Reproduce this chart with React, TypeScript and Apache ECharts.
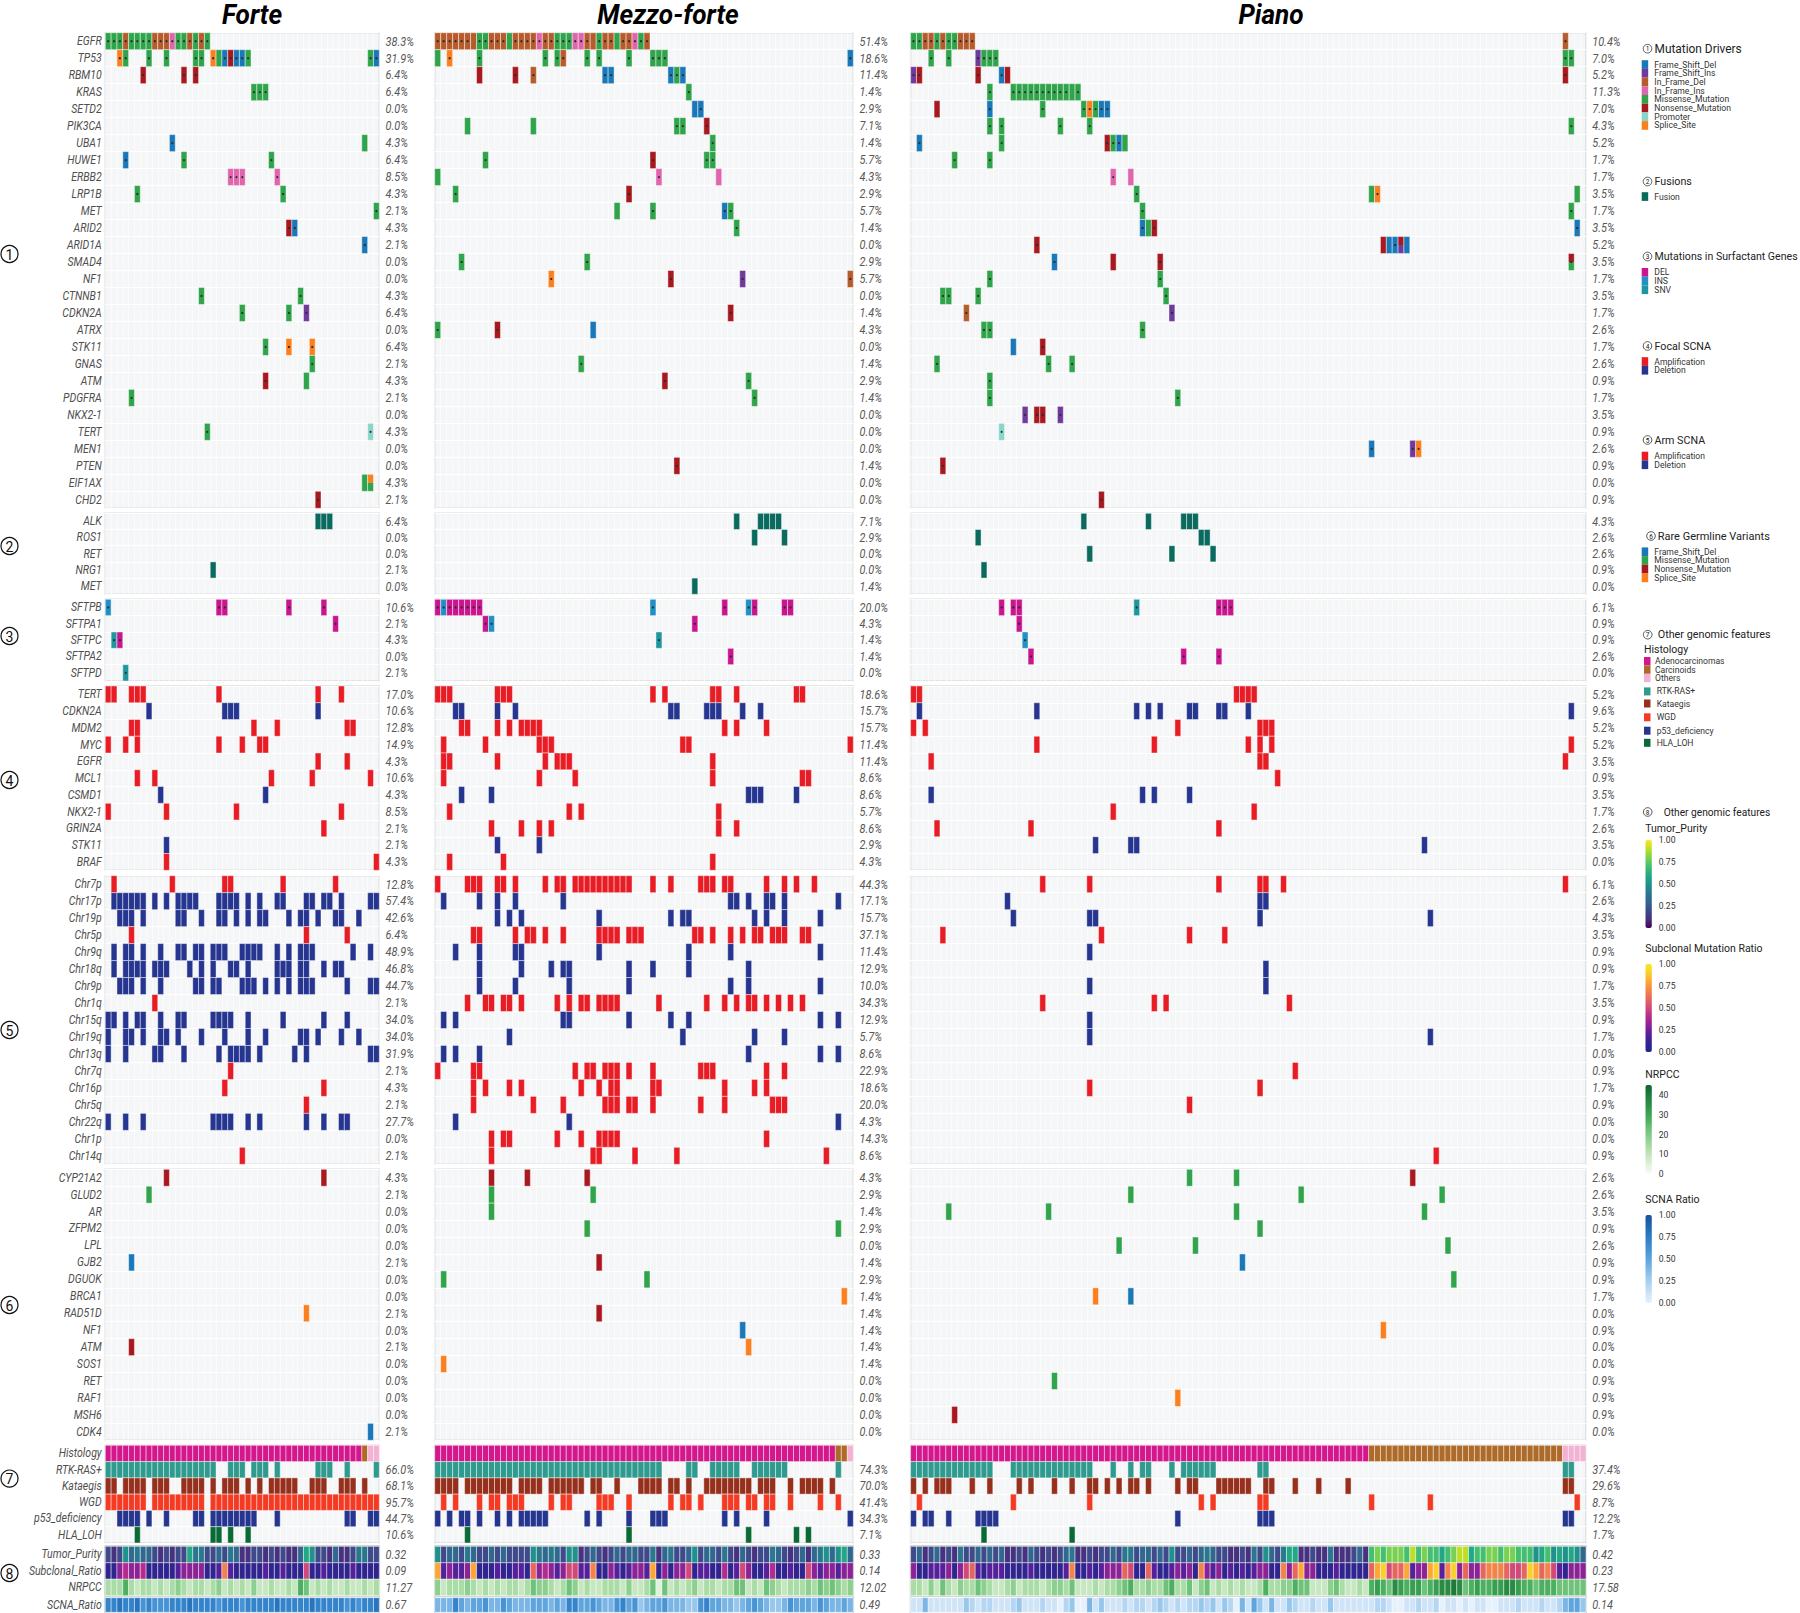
import React, { useEffect, useRef } from "react";
import * as echarts from "echarts";

const cohorts = ["Forte", "Mezzo-forte", "Piano"];
const cohortSizes = [47, 70, 115];

const driverGenes = ["EGFR","TP53","RBM10","KRAS","SETD2","PIK3CA","UBA1","HUWE1","ERBB2","LRP1B","MET","ARID2","ARID1A","SMAD4","NF1","CTNNB1","CDKN2A","ATRX","STK11","GNAS","ATM","PDGFRA","NKX2-1","TERT","MEN1","PTEN","EIF1AX","CHD2"];
const fusionGenes = ["ALK","ROS1","RET","NRG1","MET"];
const surfactantGenes = ["SFTPB","SFTPA1","SFTPC","SFTPA2","SFTPD"];
const focalGenes = ["TERT","CDKN2A","MDM2","MYC","EGFR","MCL1","CSMD1","NKX2-1","GRIN2A","STK11","BRAF"];
const focalTypes = "ALAAAALAALA";
const armNames = ["Chr7p","Chr17p","Chr19p","Chr5p","Chr9q","Chr18q","Chr9p","Chr1q","Chr15q","Chr19q","Chr13q","Chr7q","Chr16p","Chr5q","Chr22q","Chr1p","Chr14q"];
const armTypes = "ALLALLLALLLAAALAA";
const germlineGenes = ["CYP21A2","GLUD2","AR","ZFPM2","LPL","GJB2","DGUOK","BRCA1","RAD51D","NF1","ATM","SOS1","RET","RAF1","MSH6","CDK4"];
const otherFeatures = ["Histology","RTK-RAS+","Kataegis","WGD","p53_deficiency","HLA_LOH"];
const otherTypes = "HRKWPL";
const heatFeatures = ["Tumor_Purity","Subclonal_Ratio","NRPCC"];
const scnaFeature = ["SCNA_Ratio"];

// upper-case letter: mutation with a clonal dot; lower-case: without. A/B = split cell.
const forteDrivers = [
  "0M 1M 2M 3D 4M 5M 6M 7M 8D 9D 10D 11N 12M 13M 14D 15M 16D 17M",
  "2S 3M 7M 10M 15M 16M 18S 19m 20F 21X 22F 23F 24M 45M 46F",
  "6X 13X 15X","25M 26M 27M","","","11F 44m","3F 13M 28M","21N 22N 23N 29N","5M 30M","46M","31X 32F","44F","","",
  "16M 33M","23M 31M 34I","","27M 31S 35S","35M","27X 34m","4M","","17M 45P","","","44m 45s/m","36X",
];
const mezzoDrivers = [
  "0D 1D 2D 3D 4D 5D 6d 7M 8M 9D 10D 11D 12m 13D 14D 15D 16D 17N 18D 19D 20M 21M 22M 23N 24N 25D 26d 27M 28D 29D 30m 31D 32D 33N 34M 35D",
  "0m 2S 7M 18M 20M 21D 25M 27M 32M 36M 37M 38M 69F",
  "7x 13X 16D 28F 29F 39F 40M 41F","42M","43f 44F","5m 16m 40M 41M 45X","46M","8M 36X 45M 46M","0m 37N 47n","3M 32X",
  "30m 36M 48F 49M","50M","","4M 25M","19S 39X 51I 69D","","49X","0M 10X 26f","","24M","38X 52M","53M","","","","40X","","",
];
const pianoDrivers = [
  "0M 1M 2D 3D 4M 5D 6M 7M 8D 9D 10D 111D",
  "3M 6M 11I 12M 13M 14M 111M 112M",
  "0I 1X 11X 15F 16x 111X",
  "13M 17M 18M 19M 20M 21M 22M 23M 24M 25M 26M 27m 28M",
  "4x 13F 22M 29M 30S 31M 32F 33F",
  "13M 15M 25M 30M 112M",
  "1F 15M 33X 34M 35F 36m",
  "7M 13M","34N 37n","38M 78m 79S 113m","39M 112M","39F 40m 41X 113F",
  "21X 80x 81f 82F 83x/i 84f","24F 34x 42X 112X/M","13M 42M","5M 6M 11M 43M","9D 44I","12M 13M 39M","17f 22X","4M 23M 27M","13M","13M 45M","19I 21X 22X 25I","15P","78F 85I 86S","5X","","32X",
];
const fortePctDrivers = ["38.3%","31.9%","6.4%","6.4%","0.0%","0.0%","4.3%","6.4%","8.5%","4.3%","2.1%","4.3%","2.1%","0.0%","0.0%","4.3%","6.4%","0.0%","6.4%","2.1%","4.3%","2.1%","0.0%","4.3%","0.0%","0.0%","4.3%","2.1%"];
const mezzoPctDrivers = ["51.4%","18.6%","11.4%","1.4%","2.9%","7.1%","1.4%","5.7%","4.3%","2.9%","5.7%","1.4%","0.0%","2.9%","5.7%","0.0%","1.4%","4.3%","0.0%","1.4%","2.9%","1.4%","0.0%","0.0%","0.0%","1.4%","0.0%","0.0%"];
const pianoPctDrivers = ["10.4%","7.0%","5.2%","11.3%","7.0%","4.3%","5.2%","1.7%","1.7%","3.5%","1.7%","3.5%","5.2%","3.5%","1.7%","3.5%","1.7%","2.6%","1.7%","2.6%","0.9%","1.7%","3.5%","0.9%","2.6%","0.9%","0.0%","0.9%"];

const forteFusions = ["36f 37f 38f","","","18f",""];
const mezzoFusions = ["50f 54f 55f 56f 57f","53f 58f","","","43f"];
const pianoFusions = ["29f 40f 46f 47f 48f","11f 49f 50f","30f 44f 51f","12f",""];
const fortePctFusions = ["6.4%","0.0%","0.0%","2.1%","0.0%"];
const mezzoPctFusions = ["7.1%","2.9%","0.0%","0.0%","1.4%"];
const pianoPctFusions = ["4.3%","2.6%","2.6%","0.9%","0.0%"];

const forteSurfactant = ["0I 19D 20D 31D 37D","39D","1V 2D","","3V"];
const mezzoSurfactant = ["0D 1I 2D 3D 4D 5D 6D 7D 36I 48D 52I 53D 58D 59D","8D 9I 43D","37V","49D",""];
const pianoSurfactant = ["15D 17D 18D 38V 52D 53D 54D","18D","19I","20D 46D 52D",""];
const fortePctSurfactant = ["10.6%","2.1%","4.3%","0.0%","2.1%"];
const mezzoPctSurfactant = ["20.0%","4.3%","1.4%","1.4%","0.0%"];
const pianoPctSurfactant = ["6.1%","0.9%","0.9%","2.6%","0.0%"];

const forteFocal = [[0,1,4,5,6,19,36,40],[7,20,21,22,36],[4,5,25,29,41,42],[0,3,5,19,23,26,27],[36,41],[5,8,28,35,45],[9,27],[0,10,22,40],[37],[10],[10,46]];
const mezzoFocal = [[0,1,2,10,11,12,36,38,46,47,50,60,61],[3,4,10,13,39,40,45,46,47,51,54],[4,5,10,12,14,15,16,17,48,50,55],[1,8,17,18,19,41,42,69],[1,2,10,18,20,21,22,46],[1,17,23,46,61,62],[4,9,52,53,54,60],[2,22,24,47],[9,14,17,19,47,50],[10,17],[2,11,46]];
const pianoFocal = [[0,1,55,56,57,58],[1,21,38,40,42,47,48,52,53,57,112],[0,2,45,59,60,61],[21,41,57,59,61,112],[3,59,60,111],[62],[3,39,41,47],[34,58],[4,20,52],[31,37,38,87],[]];
const fortePctFocal = ["17.0%","10.6%","12.8%","14.9%","4.3%","10.6%","4.3%","8.5%","2.1%","2.1%","4.3%"];
const mezzoPctFocal = ["18.6%","15.7%","15.7%","11.4%","11.4%","8.6%","8.6%","5.7%","8.6%","2.9%","4.3%"];
const pianoPctFocal = ["5.2%","9.6%","5.2%","5.2%","3.5%","0.9%","3.5%","1.7%","2.6%","3.5%","0.0%"];

const forteArm = [
  [1,11,20,21,30,39],
  [1,2,3,4,5,6,8,10,12,13,14,15,19,20,21,22,24,26,29,30,34,35,37,38,40,45,46],
  [2,3,4,6,12,13,16,19,20,22,24,26,27,31,33,34,36,39,40,43],
  [4,34,41],
  [1,3,4,6,9,12,13,15,16,18,19,20,23,24,25,26,29,31,33,34,35,42,45],
  [1,3,4,5,6,8,9,10,14,16,18,21,22,24,29,30,31,33,34,37,39,40],
  [2,3,4,6,9,15,16,18,19,23,24,25,27,29,31,33,34,35,41,45,46],
  [8],
  [0,1,3,5,6,9,12,13,18,19,20,21,24,30,37,41],
  [0,3,4,6,9,10,12,16,20,24,27,33,34,36,40,43],
  [0,3,8,9,13,19,21,22,23,24,26,32,34,45,46],
  [21],[20,37],[34],
  [0,3,6,18,19,20,21,24,26,34,37,40,41],
  [],[23],
];
const mezzoArm = [
  [0,5,6,7,10,11,13,18,20,21,23,24,25,26,27,28,29,30,31,32,36,39,44,45,46,48,49,55,58,60,63],
  [1,7,10,13,21,49,50,52,55,56,58,67],
  [10,12,14,27,39,41,42,53,55,58,64],
  [6,7,13,15,16,18,21,27,28,29,30,32,33,34,43,44,46,49,51,53,54,56,57,58,61,62],
  [3,7,13,14,27,42,49,64],
  [7,14,19,21,22,32,36,42,52],
  [7,13,22,32,49,52,64],
  [5,8,9,11,12,14,20,22,24,25,27,28,29,30,37,45,48,50,52,53,55,57,59,61],
  [1,3,21,22,32,39,42,64,67],
  [12,41,53,58],
  [1,3,7,52,64,67],
  [0,6,7,23,25,26,28,29,30,32,36,44,45,46,55,58],
  [6,8,12,14,24,27,29,30,36,37,48,53,55],
  [6,16,21,28,29,30,32,33,36,44,48,56,57,58],
  [3,22,67],
  [9,11,12,20,24,27,28,29,30,55],
  [9,26,27,33,40,65],
];
const pianoArm = [
  [22,30,52,59,60,63,111],[16,59,60],[17,30,31,59,88],[5,32,47,53],[30],[60],[30,60],[22,41,43,64],[30],[30,88],[],[65],[30,59],[47],[],[],[89],
];
const fortePctArm = ["12.8%","57.4%","42.6%","6.4%","48.9%","46.8%","44.7%","2.1%","34.0%","34.0%","31.9%","2.1%","4.3%","2.1%","27.7%","0.0%","2.1%"];
const mezzoPctArm = ["44.3%","17.1%","15.7%","37.1%","11.4%","12.9%","10.0%","34.3%","12.9%","5.7%","8.6%","22.9%","18.6%","20.0%","4.3%","14.3%","8.6%"];
const pianoPctArm = ["6.1%","2.6%","4.3%","3.5%","0.9%","0.9%","1.7%","3.5%","0.9%","1.7%","0.0%","0.9%","1.7%","0.9%","0.0%","0.0%","0.9%"];

const forteGermline = ["10x 37x","7m","","","","4f","","","34s","","4x","","","","","45f"];
const mezzoGermline = ["9x 15x 25x","9m 26m","9m","25m 67m","","27x","1m 35m","68s","27x","51f","52s","1s","","","",""];
const pianoGermline = ["47m 55m 85x","37m 66m 90m","6m 23m 55m 87m","59m","35m 48m 91m","56f","92m","31s 37f","","80s","","","24m","45s","7x",""];
const fortePctGermline = ["4.3%","2.1%","0.0%","0.0%","0.0%","2.1%","0.0%","0.0%","2.1%","0.0%","2.1%","0.0%","0.0%","0.0%","0.0%","2.1%"];
const mezzoPctGermline = ["4.3%","2.9%","1.4%","2.9%","0.0%","1.4%","2.9%","1.4%","1.4%","1.4%","1.4%","1.4%","0.0%","0.0%","0.0%","0.0%"];
const pianoPctGermline = ["2.6%","2.6%","3.5%","0.9%","2.6%","0.9%","0.9%","1.7%","0.0%","0.9%","0.0%","0.0%","0.9%","0.9%","0.9%","0.0%"];

const forteHistology = "A".repeat(44) + "C" + "OO";
const mezzoHistology = "A".repeat(67) + "CC" + "O";
const pianoHistology = "A".repeat(78) + "C".repeat(33) + "OOOO";
const forteOther = [
  [0,1,2,3,4,5,6,7,8,9,10,11,12,13,14,15,16,17,18,21,22,23,25,26,27,29,36,37,38,41,46],
  [0,1,3,4,5,6,8,9,10,13,14,15,16,18,20,21,22,24,26,28,29,30,31,32,35,36,37,40,41,42,44],
  [0,1,2,3,4,5,6,8,9,10,11,12,13,14,15,16,18,19,20,21,22,23,24,25,26,27,28,29,30,31,32,33,34,35,36,37,38,39,40,41,42,43,44,45,46],
  [2,3,4,5,7,10,15,16,18,19,20,21,22,23,24,25,29,41,42,45,46],
  [5,18,19,21,24],
];
const mezzoOther = [
  [0,1,2,3,4,5,6,7,8,9,10,11,12,13,14,15,16,17,18,19,20,21,22,23,24,25,26,27,28,29,30,31,32,33,34,35,36,37,42,43,46,47,48,49,50,53,54,55,56,57,58,67],
  [0,1,2,3,5,6,7,8,9,10,11,12,14,15,16,17,19,20,21,22,23,24,26,27,30,34,35,36,37,39,40,42,45,46,47,48,49,50,51,52,54,55,56,59,61,62,63,64,66],
  [1,3,7,9,10,12,13,14,19,21,22,27,28,29,32,39,41,42,44,48,49,50,52,53,55,56,59,64,67],
  [0,2,4,5,7,10,12,14,15,16,17,18,25,27,32,36,37,38,48,50,55,69],
  [5,32,52,60,62],
];
const pianoOther = [
  [0,1,2,3,4,5,6,7,8,9,10,11,12,13,17,18,19,20,21,22,23,24,25,26,27,28,29,30,34,37,39,40,44,46,47,48,49,50,51,59,60,111,112],
  [0,2,4,5,6,10,13,18,20,24,27,30,31,33,35,37,38,40,45,47,48,52,53,54,55,56,57,60,61,65,69,74,111,112],
  [1,17,30,49,51,59,60,78,88,113],
  [0,2,3,6,11,12,13,14,45,59,60,61,111,112],
  [12,27],
];
const fortePctOther = ["","66.0%","68.1%","95.7%","44.7%","10.6%"];
const mezzoPctOther = ["","74.3%","70.0%","41.4%","34.3%","7.1%"];
const pianoPctOther = ["","37.4%","29.6%","8.7%","12.2%","1.7%"];

// one digit per sample: tenths of the colour bar's range
const fortePurity = "2125343321" + "2122644223" + "2431122121" + "2113652213" + "1124422";
const forteSubclonal = "11343341111123333112" + "72111112112111511211" + "1121111";
const forteNrpcc = "3336323323" + "2343233234" + "2323242232" + "2326523232" + "2322323";
const forteScna = "7787786766" + "6777877776" + "7776777778" + "7777787777" + "7676778";
const mezzoPurity = "5233243223" + "2322225434" + "3255123212" + "3233224134" + "2235233242" + "1321224321" + "2313453563";
const mezzoSubclonal = "8232238111" + "2112216343" + "2355227113" + "2123328131" + "3351221141" + "2531124112" + "1153233233";
const mezzoNrpcc = "4233343232" + "3233235443" + "2354232233" + "3242235152" + "3234233233" + "5523254323" + "3343545434";
const mezzoScna = "4447545564" + "4654445554" + "5477556544" + "6756345564" + "4433675544" + "3456543346" + "5554654454";
const pianoPurity = "2312312142" + "2323231121" + "3212123411" + "2122324423" + "3232522323" + "4322112142" + "5324661121" + "14111231" + "7878887978" + "7767899677" + "8878877756" + "756" + "5653";
const pianoSubclonal = "3112223135" + "6212221111" + "2111112711" + "2123336511" + "6211232317" + "3231212123" + "3117368331" + "11211111" + "6895668233" + "8927936336" + "7776556986" + "752" + "1333";
const pianoNrpcc = "3324253243" + "3543223423" + "3323443522" + "2323345633" + "4335633524" + "5232323223" + "6334465522" + "24532232" + "6765876775" + "6788985676" + "6778876656" + "665" + "5555";
const pianoScna = "1141111113" + "2122111231" + "1121102300" + "4131112122" + "1232121223" + "2313204153" + "1411321121" + "13111111" + "1221001121" + "1201101011" + "0011121112" + "112" + "4553";
const fortePctHeat = ["0.32","0.09","11.27"];
const mezzoPctHeat = ["0.33","0.14","12.02"];
const pianoPctHeat = ["0.42","0.23","17.58"];
const fortePctScna = ["0.67"];
const mezzoPctScna = ["0.49"];
const pianoPctScna = ["0.14"];

const DRIVER: Record<string,string> = { F:"#1a78b8", I:"#6f3a9c", D:"#b65b2b", N:"#df65ad", M:"#2fa44a", X:"#a8181f", P:"#89d5c8", S:"#fb7f1e" };
const FUSION: Record<string,string> = { F:"#0b6a5e" };
const SURF: Record<string,string> = { D:"#ca168e", I:"#2190c4", V:"#1f969f" };
const SCNA: Record<string,string> = { A:"#e81c25", L:"#26358f" };
const OTHER: Record<string,string> = { A:"#d4178c", C:"#ad6a28", O:"#f3b2d3", R:"#2f9a8e", K:"#96301d", W:"#f43a22", P:"#26358f", L:"#0a6a35" };

const PURITY_STOPS = ["#440154","#46327e","#3e4a89","#31688e","#2a788e","#21918c","#22a884","#44bf70","#7ad151","#bddf26","#fde725"];
const SUBCLONAL_STOPS = ["#23268c","#30248f","#55209a","#8b2295","#b42a8f","#d04978","#e6665f","#f2844b","#fca636","#fad02b","#f7e81f"];
const NRPCC_STOPS = ["#f6fbf3","#e0f2da","#c6e7bf","#aadca6","#8ccf8e","#6ec27a","#4cb060","#36a050","#2a8c44","#1f7a3a","#12612e"];
const SCNA_STOPS = ["#e6f1fb","#cfe4f7","#b5d6f2","#98c7ec","#7ab5e5","#5ea4dd","#4793d5","#3484cc","#2874bd","#2062ab","#1c4f9c"];

const SANS = 'Roboto, sans-serif';

const palette: string[] = [];
const paletteIndex = (c: string) => { let i = palette.indexOf(c); if (i < 0) { palette.push(c); i = palette.length - 1; } return i; };

function parseLetterRows(rows: string[], colours: Record<string,string>) {
  const out: number[][] = [];
  rows.forEach((row, r) => {
    row.split(" ").filter(Boolean).forEach((tok) => {
      const m = tok.match(/^(\d+)([A-Za-z])(?:\/([A-Za-z]))?$/)!;
      const key = m[2];
      const dot = key === key.toUpperCase() ? 1 : 0;
      const c1 = paletteIndex(colours[key.toUpperCase()]);
      const c2 = m[3] ? paletteIndex(colours[m[3].toUpperCase()]) : -1;
      out.push([+m[1], r, c1, dot, c2]);
    });
  });
  return out;
}
function parseColumnRows(rows: number[][], types: string, colours: Record<string,string>, rowOffset = 0) {
  const out: number[][] = [];
  rows.forEach((cols, r) => cols.forEach((c) => out.push([c, r + rowOffset, paletteIndex(colours[types[r + rowOffset]]), 0, -1])));
  return out;
}
function parseHistology(s: string) {
  return s.split("").map((k, c) => [c, 0, paletteIndex(OTHER[k]), 0, -1]);
}
function parseHeat(rows: string[]) {
  const out: number[][] = [];
  rows.forEach((s, r) => {
    const stops = [[PURITY_STOPS, SUBCLONAL_STOPS, NRPCC_STOPS], [SCNA_STOPS]][rows.length === 1 ? 1 : 0][r];
    s.split("").forEach((d, c) => out.push([c, r, paletteIndex(stops[+d]), 0, -1]));
  });
  return out;
}

type Group = { labels: string[]; top: number; bottom: number; border: string; data: number[][][]; pct: string[][] };
const groups: Group[] = [
  { labels: driverGenes, top: 32.7, bottom: 508.3, border: "#dcdcdc", data: [forteDrivers, mezzoDrivers, pianoDrivers].map((d) => parseLetterRows(d, DRIVER)), pct: [fortePctDrivers, mezzoPctDrivers, pianoPctDrivers] },
  { labels: fusionGenes, top: 513.3, bottom: 594.3, border: "#dcdcdc", data: [forteFusions, mezzoFusions, pianoFusions].map((d) => parseLetterRows(d, FUSION)), pct: [fortePctFusions, mezzoPctFusions, pianoPctFusions] },
  { labels: surfactantGenes, top: 599.3, bottom: 681, border: "#dcdcdc", data: [forteSurfactant, mezzoSurfactant, pianoSurfactant].map((d) => parseLetterRows(d, SURF)), pct: [fortePctSurfactant, mezzoPctSurfactant, pianoPctSurfactant] },
  { labels: focalGenes, top: 686, bottom: 870.3, border: "#dcdcdc", data: [forteFocal, mezzoFocal, pianoFocal].map((d) => parseColumnRows(d, focalTypes, SCNA)), pct: [fortePctFocal, mezzoPctFocal, pianoPctFocal] },
  { labels: armNames, top: 875.7, bottom: 1164.3, border: "#dcdcdc", data: [forteArm, mezzoArm, pianoArm].map((d) => parseColumnRows(d, armTypes, SCNA)), pct: [fortePctArm, mezzoPctArm, pianoPctArm] },
  { labels: germlineGenes, top: 1169.3, bottom: 1440.3, border: "#dcdcdc", data: [forteGermline, mezzoGermline, pianoGermline].map((d) => parseLetterRows(d, DRIVER)), pct: [fortePctGermline, mezzoPctGermline, pianoPctGermline] },
  { labels: otherFeatures, top: 1445.3, bottom: 1543, border: "#dcdcdc", data: [[forteHistology, forteOther],[mezzoHistology, mezzoOther],[pianoHistology, pianoOther]].map(([h, o]: any) => [...parseHistology(h), ...parseColumnRows(o, otherTypes, OTHER, 1)]), pct: [fortePctOther, mezzoPctOther, pianoPctOther] },
  { labels: heatFeatures, top: 1546.3, bottom: 1595.7, border: "#a8a8a8", data: [[fortePurity, forteSubclonal, forteNrpcc],[mezzoPurity, mezzoSubclonal, mezzoNrpcc],[pianoPurity, pianoSubclonal, pianoNrpcc]].map(parseHeat), pct: [fortePctHeat, mezzoPctHeat, pianoPctHeat] },
  { labels: scnaFeature, top: 1597.7, bottom: 1612.3, border: "#a8a8a8", data: [[forteScna],[mezzoScna],[pianoScna]].map(parseHeat), pct: [fortePctScna, mezzoPctScna, pianoPctScna] },
];

const panelX = [[105.3, 379.3], [434.7, 853.3], [910.6, 1586]];
const titleCenters = [252, 668, 1271];

function renderCell(params: any, api: any) {
  const [cx, cy] = api.coord([api.value(0), api.value(1)]);
  const w = Math.abs(api.size([1, 0])[0]);
  const h = Math.abs(api.size([0, 1])[1]);
  const c1 = palette[api.value(2)];
  const dot = api.value(3);
  const c2i = api.value(4);
  const stroke = "rgba(255,255,255,0.55)";
  const children: any[] = [];
  if (c2i >= 0) {
    children.push({ type: "rect", shape: { x: cx - w / 2, y: cy - h / 2, width: w, height: h / 2 }, style: { fill: c1 } });
    children.push({ type: "rect", shape: { x: cx - w / 2, y: cy, width: w, height: h / 2 }, style: { fill: palette[c2i] } });
    children.push({ type: "rect", shape: { x: cx - w / 2, y: cy - h / 2, width: w, height: h }, style: { fill: "none", stroke, lineWidth: 0.8 } });
  } else {
    children.push({ type: "rect", shape: { x: cx - w / 2, y: cy - h / 2, width: w, height: h }, style: { fill: c1, stroke, lineWidth: 0.8 } });
  }
  if (dot) children.push({ type: "circle", shape: { cx, cy, r: 1.1 }, style: { fill: "#2a2a2a" } });
  return { type: "group", children };
}

// row labels: condensed like the reference (no condensed family is installed), placed by the y axis
const rowText = (texts: string[], x: number, align: string, scaleX: number, fontSize: number, fill: string, dy = 0) =>
  (params: any, api: any) => ({
    type: "text",
    x,
    y: api.coord([0, api.value(1)])[1] + dy,
    scaleX,
    style: { text: texts[params.dataIndex], align, verticalAlign: "middle", fontFamily: SANS, fontStyle: "italic", fontSize, fill },
  });

function buildOption() {
  const grid: any[] = [], xAxis: any[] = [], yAxis: any[] = [], series: any[] = [];
  groups.forEach((g) => {
    cohorts.forEach((_, p) => {
      const idx = grid.length;
      const [x0, x1] = panelX[p];
      grid.push({ show: true, left: x0, top: g.top, width: x1 - x0, height: g.bottom - g.top, backgroundColor: "#f5f6f8", borderColor: g.border, borderWidth: 1.5 });
      xAxis.push({
        type: "category", gridIndex: idx, data: Array.from({ length: cohortSizes[p] }, (_, i) => String(i)),
        axisLine: { show: false }, axisTick: { show: false }, axisLabel: { show: false },
        splitLine: { show: true, interval: 0, lineStyle: { color: "rgba(255,255,255,0.75)", width: 0.8 } },
      });
      yAxis.push({
        type: "category", gridIndex: idx, inverse: true, data: g.labels,
        axisLine: { show: false }, axisTick: { show: false }, axisLabel: { show: false },
        splitLine: { show: true, interval: 0, lineStyle: { color: "#ffffff", width: 1 } },
      });
      series.push({
        type: "custom", xAxisIndex: idx, yAxisIndex: idx, data: g.data[p], renderItem: renderCell, clip: false,
        encode: { x: 0, y: 1 }, silent: true,
      });
      const rowData = g.labels.map((_, r) => [0, r]);
      if (p === 0) {
        series.push({
          type: "custom", xAxisIndex: idx, yAxisIndex: idx, data: rowData, clip: false, silent: true,
          encode: { x: 0, y: 1 }, renderItem: rowText(g.labels, x0 - 3.6, "right", 0.78, 13.5, "#4f4f4f", -0.6),
        });
      }
      series.push({
        type: "custom", xAxisIndex: idx, yAxisIndex: idx, data: rowData, clip: false, silent: true,
        encode: { x: 0, y: 1 }, renderItem: rowText(g.pct[p], x1 + 6.2, "left", 0.84, 13, "#585858"),
      });
    });
  });

  const graphic: any[] = [];
  const txt = (text: string, x: number, y: number, size: number, fill = "#222", align = "left") =>
    graphic.push({ type: "text", x, y, style: { text, fontFamily: SANS, fontSize: size, fill, align, verticalAlign: "middle" } });
  const circled = (n: string, x: number, y: number, r: number, size: number) => {
    graphic.push({ type: "circle", shape: { cx: x, cy: y, r }, style: { fill: "#fff", stroke: "#111", lineWidth: r > 5 ? 1.2 : 0.7 } });
    txt(n, x, y + 0.5, size, "#111", "center");
  };
  [[1, 254], [2, 546], [3, 636], [4, 780], [5, 1030], [6, 1305], [7, 1478.6], [8, 1573]].forEach(([n, y]) => circled(String(n), 9.5, y, 8.5, 14));

  cohorts.forEach((c, i) => graphic.push({
    type: "text", x: titleCenters[i], y: 14, scaleX: 0.97,
    style: { text: c, fontFamily: SANS, fontStyle: "italic", fontWeight: "bold", fontSize: 27, fill: "#000", align: "center", verticalAlign: "middle" },
  }));

  const swatches = (items: string[], colors: string[], x: number, textX: number, y: number, step: number) =>
    items.forEach((t, i) => {
      graphic.push({ type: "rect", shape: { x, y: y + i * step, width: 6.5, height: step }, style: { fill: colors[i] } });
      txt(t, textX, y + i * step + step / 2, 8.6, "#333");
    });
  const head = (n: string, title: string, cx: number, tx: number, y: number, size: number) => { circled(n, cx, y, 4.3, 6.5); txt(title, tx, y, size, "#222"); };

  const d = DRIVER;
  head("1", "Mutation Drivers", 1647.5, 1654.5, 48.7, 11.9);
  swatches(["Frame_Shift_Del","Frame_Shift_Ins","In_Frame_Del","In_Frame_Ins","Missense_Mutation","Nonsense_Mutation","Promoter","Splice_Site"], [d.F,d.I,d.D,d.N,d.M,d.X,d.P,d.S], 1641.7, 1654.3, 60.2, 8.7);
  head("2", "Fusions", 1647.5, 1654.5, 181.5, 10.7);
  swatches(["Fusion"], [FUSION.F], 1641.7, 1654.3, 192.2, 8.7);
  head("3", "Mutations in Surfactant Genes", 1647.5, 1654.5, 256.5, 10.6);
  swatches(["DEL","INS","SNV"], [SURF.D,SURF.I,SURF.V], 1641.7, 1654.3, 268, 8.7);
  head("4", "Focal SCNA", 1647.5, 1654.5, 346, 10.7);
  swatches(["Amplification","Deletion"], [SCNA.A,SCNA.L], 1641.7, 1654.3, 357.2, 8.7);
  head("5", "Arm SCNA", 1647.5, 1654.5, 440, 10.7);
  swatches(["Amplification","Deletion"], [SCNA.A,SCNA.L], 1641.7, 1654.3, 451.7, 8.7);
  head("6", "Rare Germline Variants", 1651, 1657.7, 536, 11);
  swatches(["Frame_Shift_Del","Missense_Mutation","Nonsense_Mutation","Splice_Site"], [d.F,d.M,d.X,d.S], 1641.7, 1654.3, 547.4, 8.7);
  head("7", "Other genomic features", 1647.7, 1657.7, 634.7, 10.8);
  txt("Histology", 1644, 649.5, 10.5);
  swatches(["Adenocarcinomas","Carcinoids","Others"], [OTHER.A,OTHER.C,OTHER.O], 1644, 1655, 657, 8.4);
  [["RTK-RAS+", OTHER.R, 691.4], ["Kataegis", OTHER.K, 703.5], ["WGD", OTHER.W, 717.3], ["p53_deficiency", OTHER.P, 730.7], ["HLA_LOH", OTHER.L, 742.8]].forEach(([t, c, y]: any) => {
    graphic.push({ type: "rect", shape: { x: 1644, y: y - 4, width: 6.5, height: 8 }, style: { fill: c } });
    txt(t, 1656.7, y, 8.6, "#333");
  });
  head("8", "Other genomic features", 1647.7, 1663.7, 812, 10.2);

  const bar = (title: string, ty: number, y0: number, y1: number, stops: string[], ticks: [string, number][]) => {
    txt(title, 1645.3, ty, 10.5);
    graphic.push({
      type: "rect", shape: { x: 1645.5, y: y0, width: 6.3, height: y1 - y0, r: 2 },
      style: { fill: { type: "linear", x: 0, y: 1, x2: 0, y2: 0, colorStops: stops.map((c, i) => ({ offset: i / (stops.length - 1), color: c })) } },
    });
    ticks.forEach(([t, y]) => txt(t, 1658.7, y, 8.6, "#333"));
  };
  bar("Tumor_Purity", 828, 840, 928, PURITY_STOPS, [["1.00",840],["0.75",862],["0.50",884],["0.25",906],["0.00",928]]);
  bar("Subclonal Mutation Ratio", 948.6, 964, 1052, SUBCLONAL_STOPS, [["1.00",964],["0.75",986],["0.50",1008],["0.25",1030],["0.00",1052]]);
  bar("NRPCC", 1074, 1085, 1173.6, NRPCC_STOPS, [["40",1095.4],["30",1115],["20",1134.5],["10",1154],["0",1173.6]]);
  bar("SCNA Ratio", 1199, 1215, 1303, SCNA_STOPS, [["1.00",1215],["0.75",1237],["0.50",1259],["0.25",1281],["0.00",1303]]);

  return { animation: false, backgroundColor: "#ffffff", grid, xAxis, yAxis, series, graphic };
}

export default function App() {
  const ref = useRef<HTMLDivElement>(null);
  useEffect(() => {
    const chart = echarts.init(ref.current!, undefined, { renderer: "svg" });
    chart.setOption(buildOption() as any);
    return () => chart.dispose();
  }, []);
  return <div ref={ref} style={{ position: "absolute", left: 0, top: 0, width: 1800, height: 1613 }} />;
}
